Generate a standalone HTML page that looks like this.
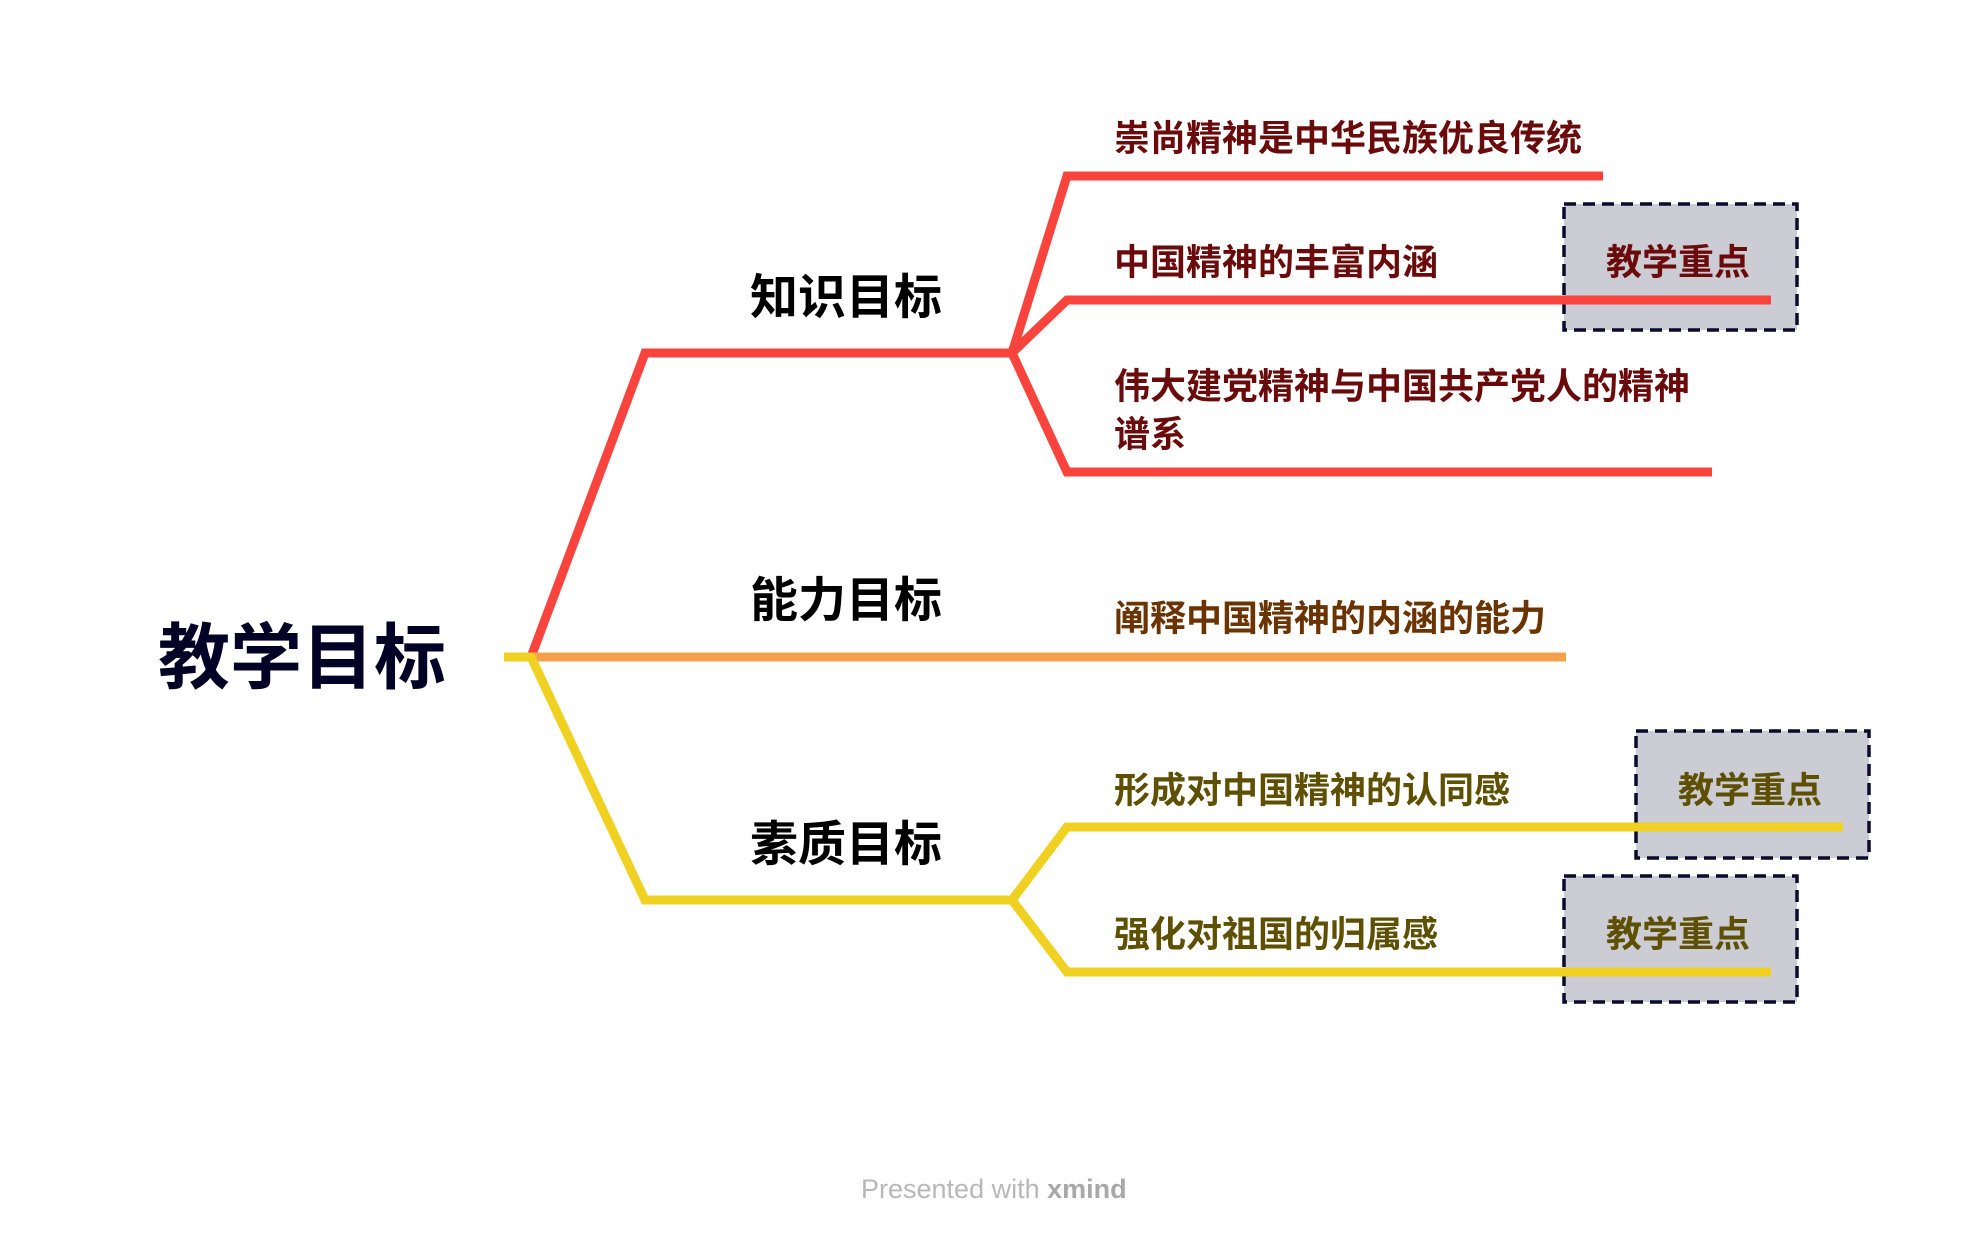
<!DOCTYPE html>
<html><head><meta charset="utf-8"><style>
html,body{margin:0;padding:0;background:#fff;}
svg{display:block}
text{font-family:"Liberation Sans","Noto Sans CJK SC",sans-serif;font-weight:bold;dominant-baseline:central}
</style></head><body>
<svg width="1984" height="1238" viewBox="0 0 1984 1238" xmlns="http://www.w3.org/2000/svg">
<rect width="1984" height="1238" fill="#fff"/>
<g fill="#cbccd4" stroke="#0a0a2e" stroke-width="3.5" stroke-dasharray="12,7">
<rect x="1564" y="204" width="233" height="126"/>
<rect x="1636" y="731" width="233" height="127"/>
<rect x="1564" y="876" width="233" height="126"/>
</g>
<g fill="none" stroke-width="9" stroke-linejoin="miter">
<polyline points="531,657 645,353 1012,353" stroke="#f9443d"/>
<polyline points="1012,353 1067,176 1603,176" stroke="#f9443d"/>
<polyline points="1012,353 1067,300 1771,300" stroke="#f9443d"/>
<polyline points="1012,353 1067,472 1712,472" stroke="#f9443d"/>
<polyline points="531,657 1566,657" stroke="#f5a04b"/>
<polyline points="504,657 531,657 645,900 1012,900" stroke="#f0d020"/>
<polyline points="1012,900 1067,827 1843,827" stroke="#f0d020"/>
<polyline points="1012,900 1067,972 1771,972" stroke="#f0d020"/>
</g>
<text x="158" y="659" font-size="72" fill="#020226">教学目标</text>
<g font-size="48" fill="#000">
<text x="750" y="298">知识目标</text>
<text x="750" y="601">能力目标</text>
<text x="750" y="845">素质目标</text>
</g>
<g font-size="36" fill="#6b0a0a">
<text x="1114" y="138">崇尚精神是中华民族优良传统</text>
<text x="1114" y="262">中国精神的丰富内涵</text>
<text x="1114" y="386">伟大建党精神与中国共产党人的精神</text>
<text x="1114" y="434">谱系</text>
<text x="1606" y="262">教学重点</text>
</g>
<text x="1114" y="618" font-size="36" fill="#6b3300">阐释中国精神的内涵的能力</text>
<g font-size="36" fill="#5e5000">
<text x="1114" y="790">形成对中国精神的认同感</text>
<text x="1114" y="934">强化对祖国的归属感</text>
<text x="1678" y="790">教学重点</text>
<text x="1606" y="934">教学重点</text>
</g>
<text x="861" y="1189" font-size="27" fill="#b8b8b8" style="font-weight:normal">Presented with <tspan style="font-weight:bold" fill="#a8a8a8">xmind</tspan></text>
</svg>
</body></html>
